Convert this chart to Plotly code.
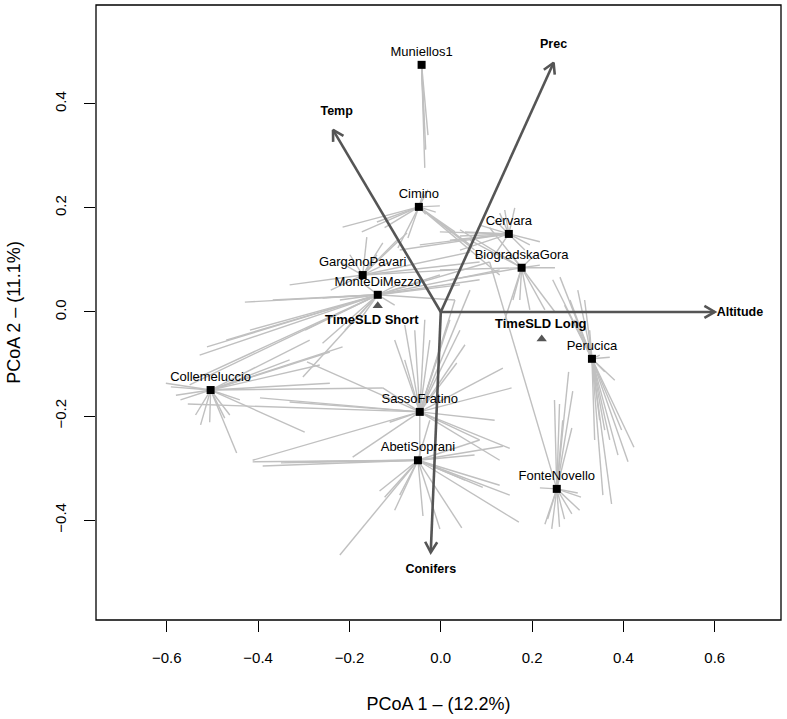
import math
import plotly.graph_objects as go

# ---------------- data ----------------
site_names = ["Muniellos1", "Cimino", "Cervara", "BiogradskaGora", "GarganoPavari",
              "MonteDiMezzo", "Collemeluccio", "SassoFratino", "AbetiSoprani",
              "FonteNovello", "Perucica"]
site_x = [-0.042, -0.048, 0.149, 0.177, -0.171, -0.138, -0.504, -0.046, -0.050, 0.254, 0.331]
site_y = [0.475, 0.202, 0.150, 0.085, 0.071, 0.033, -0.150, -0.192, -0.285, -0.340, -0.090]

# plot scores (spider end points) per site
muniellos_x = [-0.028, -0.035, -0.037, -0.033, -0.039]
muniellos_y = [0.340, 0.277, 0.369, 0.312, 0.408]

cimino_x = [-0.215, -0.140, -0.173, -0.123, -0.028, -0.037, -0.002, -0.011, -0.033, 0.064, 0.074, 0.129, 0.031, -0.094, -0.072]
cimino_y = [0.163, 0.173, 0.154, 0.162, 0.235, 0.231, 0.204, 0.192, 0.188, 0.129, 0.119, 0.071, 0.154, 0.123, 0.142]

cervara_x = [0.140, 0.129, 0.118, 0.162, 0.042, 0.053, 0.020, -0.002, 0.184, 0.195, 0.217, 0.042, -0.090, -0.046, 0.085, 0.118]
cervara_y = [0.196, 0.190, 0.177, 0.200, 0.146, 0.154, 0.138, 0.154, 0.119, 0.129, 0.135, 0.119, 0.119, 0.129, 0.167, 0.110]

biograd_x = [0.064, 0.042, 0.107, 0.250, 0.217, 0.158, 0.173, 0.195, 0.228, 0.250, 0.140, 0.020, -0.002, 0.206, 0.153]
biograd_y = [0.138, 0.158, 0.162, 0.085, 0.090, 0.023, 0.023, 0.004, 0.004, 0.000, -0.015, 0.062, 0.081, 0.110, 0.110]

gargano_x = [-0.162, -0.127, -0.074, -0.096, -0.199, -0.221, 0.064, 0.085, 0.031, -0.331, -0.241, -0.112, -0.140]
gargano_y = [0.144, 0.133, 0.152, 0.138, 0.110, 0.096, 0.115, 0.096, 0.081, 0.052, 0.042, 0.096, 0.110]

montedimezzo_x = [-0.512, -0.550, -0.539, -0.470, -0.528, -0.302, -0.259, -0.429, -0.368, -0.259, -0.221,
                  0.107, 0.129, 0.042, 0.085, 0.031, -0.177, -0.210, -0.101, -0.166, -0.088, -0.002, -0.297, -0.418]
montedimezzo_y = [-0.067, -0.140, -0.129, -0.054, -0.083, -0.125, -0.060, 0.019, 0.023, 0.027, 0.023,
                  0.096, 0.081, 0.052, 0.062, 0.023, -0.015, -0.035, 0.013, 0.052, 0.056, 0.071, -0.035, -0.035]

collemeluccio_x = [-0.591, -0.602, -0.580, -0.570, -0.537, -0.526, -0.506, -0.473, -0.462, -0.447, -0.298,
                   -0.243, -0.127, -0.215, -0.243, -0.287, -0.440, -0.331, -0.265]
collemeluccio_y = [-0.144, -0.137, -0.160, -0.169, -0.198, -0.217, -0.212, -0.204, -0.198, -0.271, -0.231,
                   -0.137, -0.146, -0.067, -0.077, -0.054, -0.169, -0.092, -0.102]

sasso_x = [-0.554, -0.331, -0.396, -0.127, -0.293, -0.193, -0.412, -0.057, -0.024, -0.002, 0.042, -0.101,
           -0.079, 0.085, 0.129, 0.151, 0.118, 0.136, 0.155, -0.046, -0.112, 0.020, -0.035, -0.079, 0.064, 0.031,
           0.053, 0.035]
sasso_y = [-0.177, -0.173, -0.165, -0.146, -0.096, -0.279, -0.285, -0.035, -0.054, -0.073, -0.035, -0.054,
           -0.092, -0.246, -0.285, -0.262, -0.208, -0.108, -0.146, -0.285, -0.212, -0.015, -0.015, -0.025, 0.042, 0.023,
           -0.063, -0.098]

abeti_x = [-0.412, -0.390, -0.350, -0.342, -0.308, -0.221, -0.134, -0.123, -0.101, -0.039, -0.002, 0.046,
           0.171, 0.129, 0.151, 0.092, 0.136, 0.085, 0.074, -0.090, -0.024, 0.053]
abeti_y = [-0.288, -0.296, -0.290, -0.288, -0.288, -0.467, -0.344, -0.356, -0.381, -0.392, -0.417, -0.415,
           -0.404, -0.333, -0.352, -0.337, -0.258, -0.246, -0.275, -0.352, -0.208, -0.323]

fonte_x = [0.280, 0.289, 0.260, 0.249, 0.287, 0.107, 0.228, 0.234, 0.243, 0.260, 0.271, 0.287, 0.304,
           0.217, 0.300, 0.307, 0.267]
fonte_y = [-0.115, -0.152, -0.177, -0.169, -0.223, 0.096, -0.408, -0.398, -0.417, -0.413, -0.398, -0.388, -0.381,
           -0.338, -0.348, -0.356, -0.208]

perucica_x = [0.245, 0.261, 0.300, 0.283, 0.271, 0.293, 0.326, 0.315, 0.374, 0.423, 0.410, 0.388, 0.370,
              0.359, 0.348, 0.396, 0.381, 0.359, 0.370, 0.348, 0.337, 0.355]
perucica_y = [0.062, 0.067, 0.042, 0.023, 0.013, -0.015, -0.035, 0.023, -0.369, -0.260, -0.288, -0.275, -0.246,
              -0.227, -0.208, -0.227, -0.131, -0.115, -0.087, -0.083, -0.246, -0.352]

spider_x = [muniellos_x, cimino_x, cervara_x, biograd_x, gargano_x, montedimezzo_x,
            collemeluccio_x, sasso_x, abeti_x, fonte_x, perucica_x]
spider_y = [muniellos_y, cimino_y, cervara_y, biograd_y, gargano_y, montedimezzo_y,
            collemeluccio_y, sasso_y, abeti_y, fonte_y, perucica_y]

# factor centroids
factor_names = ["TimeSLD Short", "TimeSLD Long"]
factor_x = [-0.138, 0.221]
factor_y = [0.012, -0.052]
factor_label_x = [-0.151, 0.219]
factor_label_y = [-0.017, -0.025]

# environmental vectors
vec_names = ["Temp", "Prec", "Altitude", "Conifers"]
vec_x = [-0.236, 0.247, 0.600, -0.022]
vec_y = [0.350, 0.479, 0.000, -0.462]
vec_label_x = [-0.228, 0.247, 0.655, -0.022]
vec_label_y = [0.385, 0.513, -0.002, -0.496]

x_ticks = [-0.6, -0.4, -0.2, 0.0, 0.2, 0.4, 0.6]
y_ticks = [-0.4, -0.2, 0.0, 0.2, 0.4]
x_title = "PCoA 1 – (12.2%)"
y_title = "PCoA 2 – (11.1%)"

# ---------------- layout geometry ----------------
W, H = 787, 719
ML, MR, MT, MB = 96, 6, 5, 99
XR = [-0.755, 0.745]
YR = [-0.592, 0.590]
sx = (W - ML - MR) / (XR[1] - XR[0])
sy = (H - MT - MB) / (YR[1] - YR[0])

FONT = "Liberation Sans, Arial, Helvetica, sans-serif"
GREY = "#c0c0c0"
ARROW = "#555555"

fig = go.Figure()

# spiders
lx, ly = [], []
for cx, cy, ex, ey in zip(site_x, site_y, spider_x, spider_y):
    for px, py in zip(ex, ey):
        lx += [cx, px, None]
        ly += [cy, py, None]
fig.add_trace(go.Scatter(x=lx, y=ly, mode="lines", line=dict(color=GREY, width=1.4),
                         hoverinfo="skip", showlegend=False))

# vectors with open arrow heads
ax_, ay_ = [], []
head_len = 12.0
ang = math.radians(30)
for tx, ty in zip(vec_x, vec_y):
    ax_ += [0, tx, None]
    ay_ += [0, ty, None]
    px, py = tx * sx, ty * sy
    n = math.hypot(px, py)
    ux, uy = px / n, py / n
    arms = []
    for s in (1, -1):
        c, si = math.cos(s * ang), math.sin(s * ang)
        rx, ry = ux * c - uy * si, ux * si + uy * c
        arms.append((tx - head_len * rx / sx, ty - head_len * ry / sy))
    ax_ += [arms[0][0], tx, arms[1][0], None]
    ay_ += [arms[0][1], ty, arms[1][1], None]
fig.add_trace(go.Scatter(x=ax_, y=ay_, mode="lines", line=dict(color=ARROW, width=2.6),
                         hoverinfo="skip", showlegend=False))

# vector labels
fig.add_trace(go.Scatter(x=vec_label_x, y=vec_label_y, mode="text", text=["<b>%s</b>" % v for v in vec_names],
                         textfont=dict(family=FONT, size=12.5, color="black"),
                         hoverinfo="skip", showlegend=False))

# factor centroids
fig.add_trace(go.Scatter(x=factor_x, y=factor_y, mode="markers",
                         marker=dict(symbol="triangle-up", size=9, color=ARROW),
                         hoverinfo="skip", showlegend=False))
fig.add_trace(go.Scatter(x=factor_label_x, y=factor_label_y, mode="text",
                         text=["<b>%s</b>" % v for v in factor_names],
                         textfont=dict(family=FONT, size=13, color="black"),
                         hoverinfo="skip", showlegend=False))

# site centroids
fig.add_trace(go.Scatter(x=site_x, y=site_y, mode="markers+text", text=site_names,
                         textposition="top center",
                         textfont=dict(family=FONT, size=13, color="black"),
                         marker=dict(symbol="square", size=8, color="black"),
                         hoverinfo="skip", showlegend=False))

# box
fig.add_shape(type="rect", xref="paper", yref="paper", x0=0, y0=0, x1=1, y1=1,
              line=dict(color="black", width=1.3), fillcolor="rgba(0,0,0,0)")

fig.update_layout(
    width=W, height=H,
    margin=dict(l=ML, r=MR, t=MT, b=MB),
    paper_bgcolor="white", plot_bgcolor="white",
    showlegend=False, hovermode=False,
    font=dict(family=FONT, color="black"),
    xaxis=dict(range=XR, tickvals=x_ticks,
               ticktext=[("−%.1f" % abs(v)) if v < 0 else "%.1f" % v for v in x_ticks],
               ticks="outside", ticklen=11, tickwidth=1, tickcolor="black",
               showgrid=False, zeroline=False, showline=False,
               tickfont=dict(family=FONT, size=15), ticklabelstandoff=13,
               title=dict(text=x_title, font=dict(family=FONT, size=18), standoff=32)),
    yaxis=dict(range=YR, tickvals=y_ticks,
               ticktext=[("−%.1f" % abs(v)) if v < 0 else "%.1f" % v for v in y_ticks],
               ticks="outside", ticklen=11, tickwidth=1, tickcolor="black", tickangle=-90,
               showgrid=False, zeroline=False, showline=False,
               tickfont=dict(family=FONT, size=15), ticklabelstandoff=12,
               title=dict(text=y_title, font=dict(family=FONT, size=18), standoff=26)),
)

fig.write_html("out.html", config={"displayModeBar": False},
               post_script="document.body.style.margin='0px';")
